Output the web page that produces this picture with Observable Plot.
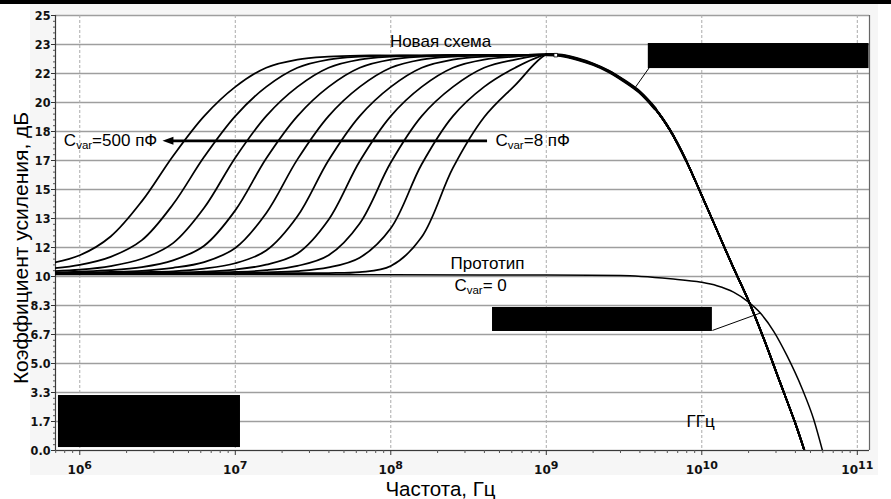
<!DOCTYPE html>
<html><head><meta charset="utf-8">
<script src="https://cdn.jsdelivr.net/npm/d3@7"></script>
<script src="https://cdn.jsdelivr.net/npm/@observablehq/plot@0.6"></script>
<style>
html,body{margin:0;padding:0;background:#fff;}
#wrap{position:relative;width:891px;height:499px;overflow:hidden;}
#topbar{position:absolute;left:0;top:0;width:891px;height:4px;background:#000;}
#panel{position:absolute;left:30px;top:4px;width:848px;height:471px;background:#f6f6f6;}
#chart{position:absolute;left:0;top:0;}
</style></head><body>
<div id="wrap"><div id="topbar"></div><div id="panel"></div><div id="chart"></div></div>
<script>
// ---- data ----
const freqGrid = [6.31e5, 1e6, 1.58e6, 2.51e6, 3.98e6, 6.31e6, 1e7, 1.58e7, 2.51e7, 3.98e7, 6.31e7, 1e8, 1.58e8, 2.51e8, 3.98e8, 6.31e8, 1e9];
const gainC500 = [10.74, 11.22, 12.3, 14.33, 16.93, 19.22, 20.9, 22.0, 22.47, 22.64, 22.7, 22.7, 22.7, 22.72, 22.72, 22.73, 22.75];
const gainC2 = [10.44, 10.67, 11.13, 12.09, 14.15, 16.88, 19.22, 20.9, 22.0, 22.47, 22.64, 22.7, 22.7, 22.72, 22.72, 22.73, 22.75];
const gainC3 = [10.29, 10.39, 10.6, 11.02, 11.92, 13.95, 16.83, 19.22, 20.9, 22.0, 22.47, 22.64, 22.7, 22.72, 22.72, 22.73, 22.75];
const gainC4 = [10.23, 10.28, 10.36, 10.54, 10.93, 11.77, 13.8, 16.78, 19.22, 20.9, 22.0, 22.47, 22.64, 22.7, 22.72, 22.73, 22.75];
const gainC5 = [10.2, 10.22, 10.26, 10.33, 10.5, 10.83, 11.64, 13.64, 16.73, 19.22, 20.9, 22.0, 22.47, 22.64, 22.7, 22.72, 22.75];
const gainC6 = [10.2, 10.2, 10.21, 10.25, 10.3, 10.45, 10.76, 11.49, 13.46, 16.68, 19.22, 20.9, 22.0, 22.47, 22.64, 22.7, 22.75];
const gainC7 = [10.2, 10.2, 10.2, 10.2, 10.23, 10.28, 10.4, 10.68, 11.32, 13.26, 16.62, 19.22, 20.9, 22.0, 22.47, 22.64, 22.75];
const gainC8 = [10.2, 10.2, 10.2, 10.2, 10.2, 10.22, 10.26, 10.36, 10.61, 11.22, 13.05, 16.55, 19.22, 20.9, 22.0, 22.47, 22.75];
const gainC9 = [10.2, 10.2, 10.2, 10.2, 10.2, 10.2, 10.2, 10.24, 10.31, 10.52, 11.08, 12.77, 16.45, 19.22, 20.9, 22.0, 22.75];
const gainC8pF = [10.2, 10.2, 10.2, 10.2, 10.2, 10.2, 10.2, 10.2, 10.2, 10.2, 10.25, 10.6, 12.27, 16.24, 19.15, 21.0, 22.75];
const seriesNames = ["500 пФ", "C2", "C3", "C4", "C5", "C6", "C7", "C8", "C9", "8 пФ"];

const rolloffFreq = [1.26e9, 1.58e9, 2e9, 2.51e9, 3.16e9, 3.98e9, 5.01e9, 6.31e9, 7.94e9, 1e10, 1.26e10, 1.58e10, 2e10, 2.51e10, 3.16e10, 3.98e10, 4.57e10];
const rolloffGain = [22.7, 22.5, 22.2, 21.8, 21.25, 20.6, 19.65, 18.35, 16.65, 14.65, 12.6, 10.6, 8.6, 6.4, 4.0, 1.6, 0];

const protoFreq = [6.9e5, 1e7, 1e8, 1e9, 3e9, 6.28e9, 9.93e9, 1.25e10, 1.6e10, 1.95e10, 2.38e10, 2.9e10, 3.53e10, 4.42e10, 5.24e10, 5.97e10];
const protoGain = [10.12, 10.11, 10.1, 10.08, 10.06, 9.87, 9.67, 9.47, 9.1, 8.6, 7.9, 6.85, 5.45, 3.55, 1.8, 0];

const yTickValues = [0, 25/15, 50/15, 5, 100/15, 125/15, 10, 175/15, 200/15, 15, 250/15, 275/15, 20, 325/15, 350/15, 25];
const yTickLabels = ["0.0", "1.7", "3.3", "5.0", "6.7", "8.3", "10", "12", "13", "15", "17", "18", "20", "22", "23", "25"];
const xTickValues = [1e6, 1e7, 1e8, 1e9, 1e10, 1e11];
const xTickExponents = ["6", "7", "8", "9", "10", "11"];

const yTitle = "Коэффициент усиления, дБ";
const xTitle = "Частота, Гц";

// annotations (data coordinates)
const notesMiddle = [
  {t: "Новая схема", f: 2.09e8, g: 23.48},
  {t: "Прототип", f: 4.19e8, g: 10.73},
  {t: "Cvar= 0", f: 3.78e8, g: 9.48},
  {t: "ГГц", f: 9.82e9, g: 1.64}
];
const notesEnd = [{t: "Cvar=500 пФ", f: 3.15e6, g: 17.8}];
const notesStart = [{t: "Cvar=8 пФ", f: 4.71e8, g: 17.8}];
const arrowLine = [{g: 17.8, f1: 3.8e6, f2: 4.19e8}];
const arrowTip = [{f: 3.69e6, g: 17.8}];
const peakMarker = [{f: 1.15e9, g: 22.72}];
const blackBoxes = [
  {f1: 4.53e9, f2: 1.19e11, g1: 21.95, g2: 23.39},
  {f1: 4.51e8, f2: 1.17e10, g1: 6.84, g2: 8.22},
  {f1: 7.29e5, f2: 1.08e7, g1: 0.17, g2: 3.16}
];
const callouts = [
  {f1: 4.6e9, g1: 22.01, f2: 3.69e9, g2: 20.8},
  {f1: 1.17e10, g1: 6.9, f2: 2.38e10, g2: 7.9}
];

// ---- build tables ----
const curves = [gainC500, gainC2, gainC3, gainC4, gainC5, gainC6, gainC7, gainC8, gainC9, gainC8pF];
const rows = [];
curves.forEach((g, k) => {
  freqGrid.forEach((f, j) => rows.push({f, g: g[j], s: seriesNames[k]}));
  rolloffFreq.forEach((f, j) => rows.push({f, g: rolloffGain[j], s: seriesNames[k]}));
});
const rollRows = [{f: freqGrid[freqGrid.length - 1], g: gainC500[gainC500.length - 1]}]
  .concat(rolloffFreq.map((f, j) => ({f, g: rolloffGain[j]})));
const bandRows = rollRows.filter(d => d.f < 6e9);
const bandRows2 = rollRows.filter(d => d.f < 9e9);
const protoRows = protoFreq.map((f, j) => ({f, g: protoGain[j]}));

const xDomain = [6.98e5, 1.198e11];
const minorX = d3.range(5, 12).flatMap(e => d3.range(2, 10).map(m => m * 10 ** e)).filter(v => v > xDomain[0] && v < xDomain[1]);
const minorY = d3.range(0, 76).map(i => i * 25 / 75);

const sans = "'Liberation Sans', Arial, sans-serif";
const tickFont = "'DejaVu Sans', Verdana, sans-serif";
const tickFontY = "'DejaVu Sans Condensed', 'DejaVu Sans', Verdana, sans-serif";

const headSymbol = {
  draw(ctx, size) {
    const r = Math.sqrt(size / Math.PI);
    ctx.moveTo(-r, 0);
    ctx.lineTo(r, -r * 0.72);
    ctx.lineTo(r, r * 0.72);
    ctx.closePath();
  }
};

const plot = Plot.plot({
  width: 891, height: 499,
  marginLeft: 55, marginRight: 22, marginTop: 15, marginBottom: 49,
  style: {background: "transparent", overflow: "visible"},
  x: {type: "log", domain: xDomain, label: null},
  y: {domain: [0, 25], label: null},
  marks: [
    Plot.frame({fill: "white", stroke: "none"}),
    Plot.ruleY(yTickValues, {stroke: "#9e9e9e", strokeWidth: 1.4}),
    Plot.ruleX(xTickValues, {stroke: "#ababab", strokeDasharray: "3,2"}),
    Plot.ruleY([0], {stroke: "#3a3a3a", strokeWidth: 1.2}),
    Plot.ruleX([xDomain[0]], {stroke: "#3a3a3a", strokeWidth: 1.2}),
    Plot.ruleX([xDomain[1]], {stroke: "#666", strokeWidth: 1.2}),
    Plot.axisY(minorY, {tickSize: 2, tickFormat: () => "", stroke: "#555", label: null}),
    Plot.axisY(yTickValues, {tickSize: 4, tickPadding: 1, stroke: "#333",
      tickFormat: d => yTickLabels[yTickValues.indexOf(d)],
      fontFamily: tickFontY, fontWeight: "bold", fontSize: 12.5, fill: "#111", label: null}),
    Plot.axisX(minorX, {tickSize: 3, tickFormat: () => "", stroke: "#555", label: null}),
    Plot.axisX(xTickValues, {tickSize: 5, tickPadding: 10, stroke: "#333",
      tickFormat: d => xTickExponents[xTickValues.indexOf(d)],
      fontFamily: tickFont, fontWeight: "bold", fontSize: 12, fill: "#111", label: null}),
    Plot.rect(blackBoxes, {x1: "f1", x2: "f2", y1: "g1", y2: "g2", fill: "black"}),
    Plot.link(callouts, {x1: "f1", y1: "g1", x2: "f2", y2: "g2", stroke: "black", strokeWidth: 1}),
    Plot.line(protoRows, {x: "f", y: "g", curve: "monotone-x", stroke: "black", strokeWidth: 1.5, clip: true}),
    Plot.line(rows, {x: "f", y: "g", z: "s", curve: "catmull-rom", stroke: "black", strokeWidth: 1.75, clip: true}),
    Plot.line(bandRows2, {x: "f", y: "g", curve: "catmull-rom", stroke: "black", strokeWidth: 2.4, clip: true}),
    Plot.line(bandRows, {x: "f", y: "g", curve: "catmull-rom", stroke: "black", strokeWidth: 3.4, clip: true}),
    Plot.dot(peakMarker, {x: "f", y: "g", symbol: "square", r: 2, fill: "white", stroke: "black", strokeWidth: 0.8}),
    Plot.ruleY(arrowLine, {y: "g", x1: "f1", x2: "f2", stroke: "black", strokeWidth: 2.8}),
    Plot.dot(arrowTip, {x: "f", y: "g", symbol: headSymbol, r: 5.5, fill: "black", stroke: "none"}),
    Plot.text(notesMiddle, {x: "f", y: "g", text: "t", textAnchor: "middle", fontFamily: sans, fontSize: 17, fill: "black"}),
    Plot.text(notesEnd, {x: "f", y: "g", text: "t", textAnchor: "end", fontFamily: sans, fontSize: 17, fill: "black"}),
    Plot.text(notesStart, {x: "f", y: "g", text: "t", textAnchor: "start", fontFamily: sans, fontSize: 17, fill: "black"}),
    Plot.text([yTitle], {frameAnchor: "left", textAnchor: "middle", lineAnchor: "middle", rotate: -90, dx: -34, dy: 15, fontFamily: sans, fontSize: 21, fill: "black"}),
    Plot.text([xTitle], {frameAnchor: "bottom", textAnchor: "middle", lineAnchor: "middle", dx: -22, dy: 39, fontFamily: sans, fontSize: 20.5, fill: "black"})
  ]
});

document.getElementById("chart").appendChild(plot);

// superscript exponents on x tick labels
const NS = "http://www.w3.org/2000/svg";
plot.querySelectorAll('g[aria-label="x-axis tick label"] text').forEach(t => {
  const e = t.textContent;
  if (!e) return;
  t.textContent = "";
  const a = document.createElementNS(NS, "tspan"); a.textContent = "10";
  const b = document.createElementNS(NS, "tspan"); b.setAttribute("dy", "-5"); b.setAttribute("font-size", "11"); b.textContent = e;
  t.append(a, b);
});
// subscript "var" in C_var labels
plot.querySelectorAll("text").forEach(t => {
  const s = t.textContent;
  if (!s.startsWith("Cvar")) return;
  t.textContent = "";
  const a = document.createElementNS(NS, "tspan"); a.textContent = "C";
  const b = document.createElementNS(NS, "tspan"); b.setAttribute("dy", "3"); b.setAttribute("font-size", "11.5"); b.textContent = "var";
  const c = document.createElementNS(NS, "tspan"); c.setAttribute("dy", "-3"); c.textContent = s.slice(4);
  t.append(a, b, c);
});
</script>
</body></html>
